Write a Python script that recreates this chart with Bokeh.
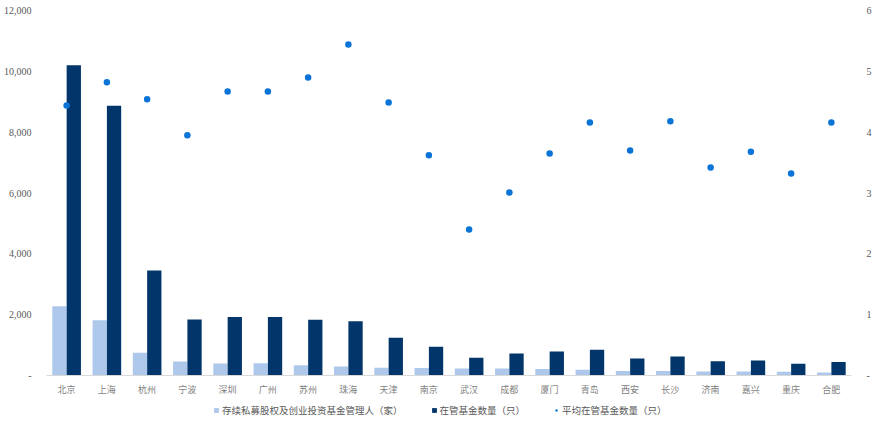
from bokeh.plotting import figure
from bokeh.layouts import column
from bokeh.models import (FactorRange, Range1d, LinearAxis, FixedTicker, Legend,
                          LegendItem, ColumnDataSource)
from bokeh.transform import dodge
from bokeh.embed import file_html
from bokeh.resources import INLINE

cities = ["北京", "上海", "杭州", "宁波", "深圳", "广州", "苏州", "珠海", "天津", "南京",
          "武汉", "成都", "厦门", "青岛", "西安", "长沙", "济南", "嘉兴", "重庆", "合肥"]
managers = [2280, 1820, 750, 460, 395, 400, 340, 300, 255, 250,
            230, 230, 210, 190, 150, 150, 135, 130, 120, 100]
funds = [10200, 8870, 3450, 1840, 1920, 1920, 1830, 1780, 1240, 945,
         580, 725, 790, 845, 560, 625, 470, 495, 385, 440]
avg_funds = [4.44, 4.82, 4.54, 3.95, 4.67, 4.67, 4.90, 5.44, 4.49, 3.62,
             2.40, 3.01, 3.65, 4.16, 3.70, 4.18, 3.42, 3.68, 3.32, 4.16]
left_ticks = [0, 2000, 4000, 6000, 8000, 10000, 12000]
right_ticks = [0, 1, 2, 3, 4, 5, 6]
legend_labels = ["存续私募股权及创业投资基金管理人（家）", "在管基金数量（只）", "平均在管基金数量（只）"]

LIGHT = "#ADC8EB"
DARK = "#02366A"
DOT = "#0B74D6"
GREY = "#595959"
CJK = "Noto Sans CJK SC"
NUM = "Liberation Serif"

src = ColumnDataSource(dict(city=cities, managers=managers, funds=funds, avg=avg_funds))

p = figure(x_range=FactorRange(*cities, range_padding=0), y_range=Range1d(0, 12100),
           frame_width=805, frame_height=368, output_backend="svg", toolbar_location=None,
           min_border_left=39, min_border_right=18, min_border_top=7, min_border_bottom=29)
p.extra_y_ranges = {"avg": Range1d(0, 6.05)}
p.outline_line_color = None
p.grid.visible = False

r1 = p.vbar(x=dodge("city", -0.178, range=p.x_range), top="managers", width=0.355,
            source=src, color=LIGHT, line_color=None)
r2 = p.vbar(x=dodge("city", 0.178, range=p.x_range), top="funds", width=0.355,
            source=src, color=DARK, line_color=None)
r3 = p.scatter(x="city", y="avg", source=src, y_range_name="avg", size=6.5,
               color=DOT, line_color=None)

# left axis
ya = p.yaxis[0]
ya.ticker = FixedTicker(ticks=left_ticks)
ya.major_label_overrides = {t: ("-" if t == 0 else f"{t:,}") for t in left_ticks}
ya.axis_line_color = None
ya.major_tick_line_color = None
ya.minor_tick_line_color = None
ya.major_label_standoff = 9
ya.major_label_text_font = NUM
ya.major_label_text_font_size = "10px"
ya.major_label_text_color = GREY

# right axis
ra = LinearAxis(y_range_name="avg", ticker=FixedTicker(ticks=right_ticks))
ra.major_label_overrides = {t: ("-" if t == 0 else str(t)) for t in right_ticks}
ra.axis_line_color = None
ra.major_tick_line_color = None
ra.minor_tick_line_color = None
ra.major_label_standoff = 9
ra.major_label_text_font = NUM
ra.major_label_text_font_size = "10px"
ra.major_label_text_color = GREY
p.add_layout(ra, "right")

xa = p.xaxis[0]
xa.axis_line_color = "#D9D9D9"
xa.axis_line_width = 1
xa.major_tick_line_color = None
xa.major_tick_out = 0
xa.major_label_standoff = 7
xa.major_label_text_font = CJK
xa.major_label_text_font_size = "9px"
xa.major_label_text_color = "#7F7F7F"

# legend strip (separate figure so the legend is never clipped)
lg = figure(x_range=p.x_range, y_range=Range1d(0, 1), frame_width=805, frame_height=14,
            output_backend="svg", toolbar_location=None,
            min_border_left=39, min_border_right=18, min_border_top=0, min_border_bottom=0)
lg.axis.visible = False
lg.grid.visible = False
lg.outline_line_color = None
l1 = lg.vbar(x="city", top="managers", width=0.3, source=src, color=LIGHT,
             line_color=None, visible=False)
l2 = lg.vbar(x="city", top="funds", width=0.3, source=src, color=DARK,
             line_color=None, visible=False)
l3 = lg.scatter(x="city", y="avg", source=src, size=6.5, color=DOT,
                line_color=None, visible=False)

legend = Legend(items=[LegendItem(label=legend_labels[0], renderers=[l1]),
                       LegendItem(label=legend_labels[1], renderers=[l2]),
                       LegendItem(label=legend_labels[2], renderers=[l3])],
                orientation="horizontal", location=(167, 1),
                glyph_width=6, glyph_height=6, label_standoff=3, spacing=28,
                padding=0, margin=0, label_height=10,
                label_text_font=CJK, label_text_font_size="9.5px",
                label_text_color=GREY, border_line_color=None,
                background_fill_alpha=0, inactive_fill_alpha=0)
lg.add_layout(legend, "center")

open("out.html", "w").write(file_html(column(p, lg, spacing=0), INLINE))
